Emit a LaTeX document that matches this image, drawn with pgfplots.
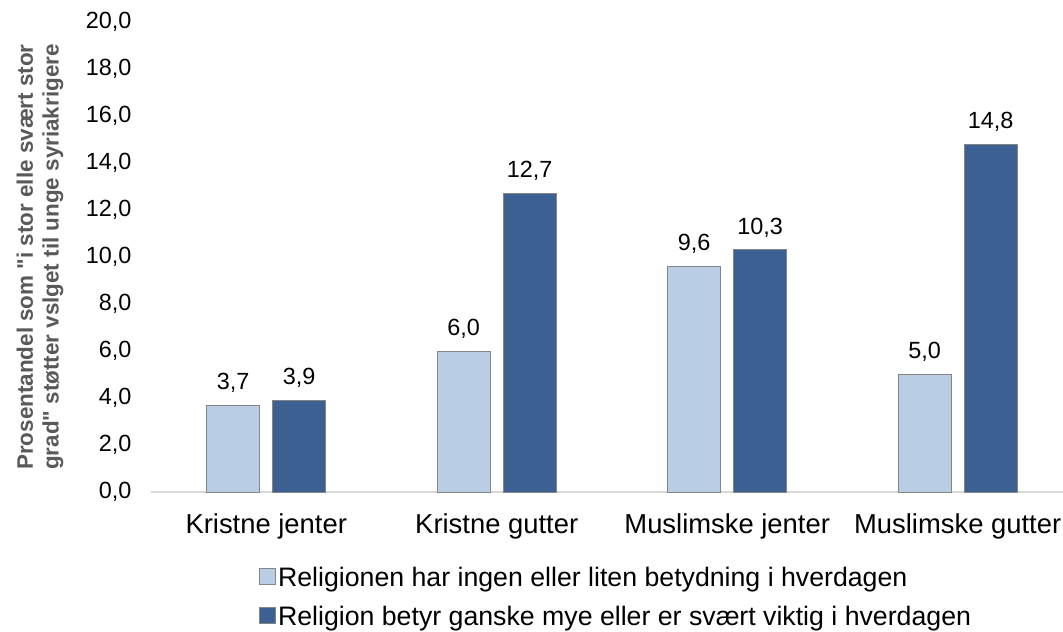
\documentclass[border=0pt]{standalone}
\usepackage{pgfplots}
\pgfplotsset{compat=1.18}
\usepackage{fontspec}
\setmainfont{Liberation Sans}[Ligatures=TeXOff]
\definecolor{lysbla}{HTML}{B9CDE5}
\definecolor{morkbla}{HTML}{3C6091}
\definecolor{kant}{HTML}{858585}
\definecolor{akse}{HTML}{D9D9D9}
\definecolor{etikett}{HTML}{595959}
\begin{document}
\begin{tikzpicture}
    \begin{axis}[
        at={(0,0)}, anchor=south west,
        scale only axis,
        width=912bp, height=470bp,
        ybar=13bp,
        bar width=53bp,
        xmin=-0.5, xmax=3.457,
        ymin=0, ymax=20,
        ytick={0,2,...,20},
        xtick={0,1,2,3},
        xticklabels={Kristne jenter, Kristne gutter, Muslimske jenter, Muslimske gutter},
        axis x line=bottom, axis y line=left,
        x axis line style={-, draw=akse, line width=1.2pt},
        y axis line style={draw=none},
        major tick length=0,
        xticklabel style={font=\fontsize{27.5}{32}\selectfont, yshift=-18bp},
        yticklabel style={font=\fontsize{23.5}{28}\selectfont, xshift=-16bp,
            /pgf/number format/.cd, fixed, fixed zerofill, precision=1, use comma, assume math mode=true},
        ylabel={Prosentandel som "i stor elle svært stor\\grad" støtter vslget til unge syriakrigere},
        ylabel style={at={(axis description cs:-0.1217,0.5)}, anchor=center, align=center,
            font=\bfseries\fontsize{22.5}{26}\selectfont, text=etikett},
        nodes near coords,
        nodes near coords style={font=\fontsize{23.5}{28}\selectfont, text=black, anchor=south, yshift=9bp,
            /pgf/number format/.cd, fixed, fixed zerofill, precision=1, use comma, assume math mode=true},
        legend columns=1,
        legend cell align=left,
        legend style={at={(0.1185,-0.155)}, anchor=north west, draw=none, fill=none,
            inner sep=0pt, row sep=14bp, font=\fontsize{26.8}{31}\selectfont},
        legend image code/.code={\draw[#1, draw=kant, line width=0.8pt] (0bp,-7bp) rectangle (16bp,9bp);},
    ]
        \addplot[fill=lysbla, draw=kant, line width=1pt] coordinates {(0,3.7) (1,6.0) (2,9.6) (3,5.0)};
        \addplot[fill=morkbla, draw=kant, line width=1pt] coordinates {(0,3.9) (1,12.7) (2,10.3) (3,14.8)};
        \legend{Religionen har ingen eller liten betydning i hverdagen, Religion betyr ganske mye eller er svært viktig i hverdagen}
    \end{axis}
    \pgfresetboundingbox
    \path (-151bp,-140bp) rectangle (912bp,492bp);
\end{tikzpicture}
\end{document}
